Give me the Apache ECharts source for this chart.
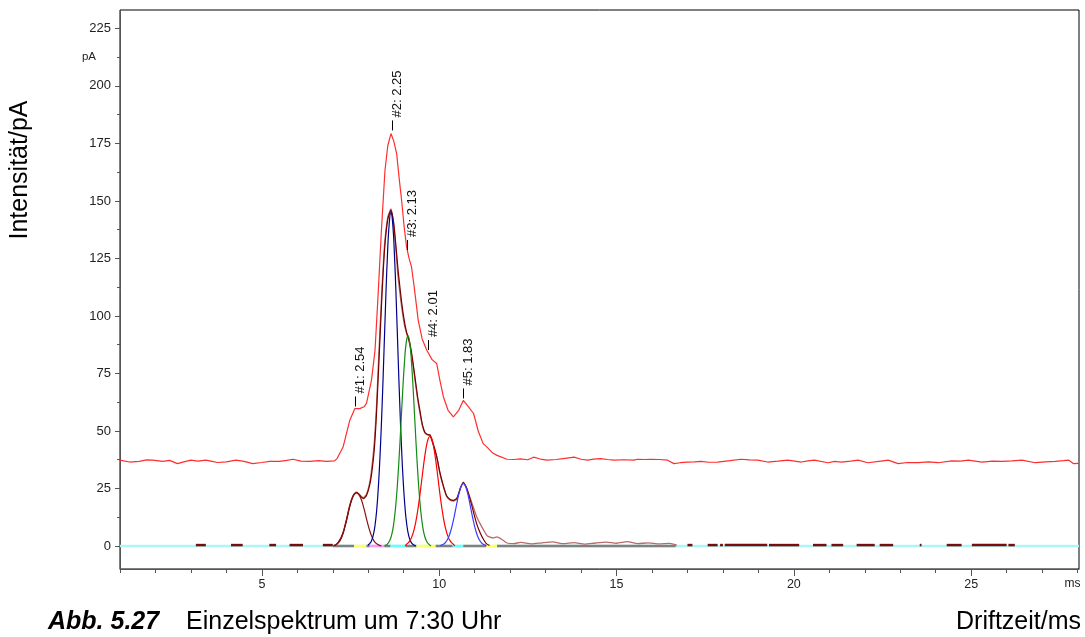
<!DOCTYPE html>
<html>
<head>
<meta charset="utf-8">
<script src="https://cdn.jsdelivr.net/npm/echarts@6/dist/echarts.min.js"></script>
<style>
  html, body { margin: 0; padding: 0; background: #fff; }
  #chart { width: 1085px; height: 637px; }
</style>
</head>
<body>
<div id="chart"></div>
<script>
// ---- Data: ion mobility single spectrum, drift time (ms) vs. intensity (pA) ----

// Measured spectrum (raw signal incl. offset)
const spectrum = [
  [1.0,37.3],[1.27,36.5],[1.54,36.8],[1.75,37.4],[1.92,37.3],[2.2,36.8],[2.4,37.2],[2.62,35.8],[2.8,36.6],[3.0,37.3],
  [3.2,36.9],[3.42,37.3],[3.6,36.8],[3.75,36.3],[4.0,36.6],[4.27,37.3],[4.5,36.8],[4.74,35.8],[5.0,36.3],[5.22,36.8],
  [5.5,36.8],[5.7,37.2],[5.88,37.7],[6.1,36.9],[6.35,36.8],[6.6,37.1],[6.82,36.8],[7.05,37.0],[7.12,38],[7.29,43],
  [7.48,54.7],[7.62,59.7],[7.76,59.7],[7.88,60.5],[7.95,62],[8.09,72],[8.19,85],[8.27,107],[8.37,137],[8.47,163],
  [8.55,174],[8.64,179.3],[8.72,176],[8.80,170.6],[8.87,160],[8.94,150.3],[9.01,139],[9.08,130],[9.15,125],[9.22,121.3],
  [9.30,112],[9.41,98],[9.52,90],[9.65,85.1],[9.80,81],[9.93,79.3],[10.02,72],[10.12,64.8],[10.25,59],[10.40,56.1],
  [10.55,59],[10.68,63.3],[10.80,61],[10.97,57.6],[11.1,50],[11.24,44.5],[11.35,43],[11.5,40.5],[11.63,39.4],[11.91,37.7],
  [12.1,37.6],[12.29,37.9],[12.5,37.5],[12.66,38.6],[12.85,37.8],[13.04,37.3],[13.3,37.6],[13.5,38],[13.8,38.6],[14.0,37.7],
  [14.19,37.3],[14.35,37.8],[14.55,38],[14.75,37.6],[14.93,37.3],[15.2,37.5],[15.49,37.3],[15.59,37.7],[15.8,37.6],[15.96,37.7],
  [16.2,37.6],[16.44,37.3],[16.62,35.8],[16.8,36.2],[17.0,36.5],[17.2,36.6],[17.38,36.8],[17.6,36.4],[17.85,36.5],[18.2,37.1],
  [18.51,37.7],[18.75,37.4],[18.98,37.3],[19.26,36.5],[19.55,36.9],[19.83,37.3],[20.21,36.5],[20.4,37.0],[20.58,37.3],[20.96,36.2],
  [21.15,36.8],[21.34,36.5],[21.6,36.9],[21.81,37.3],[22.09,36.2],[22.4,36.8],[22.66,37.3],[22.94,35.8],[23.2,36.3],[23.51,36.2],
  [23.8,36.6],[24.07,36.2],[24.45,37.0],[24.7,36.9],[24.92,37.3],[25.3,36.5],[25.6,36.9],[25.87,36.8],[26.15,37.0],[26.43,37.3],
  [26.81,36.2],[27.1,36.6],[27.37,36.8],[27.6,37.1],[27.75,37.3],[27.89,35.8],[28.04,35.9]
];

// Spectrum after offset subtraction
const netSignal = [
  [7.0,0],[7.1,0.8],[7.2,2.5],[7.29,5.8],[7.38,11],[7.48,17.8],[7.58,22.2],[7.67,23.4],[7.76,22.3],[7.86,21.0],
  [7.95,22.5],[8.04,27.5],[8.10,34],[8.17,45],[8.23,60],[8.30,84],[8.38,110],[8.46,131],[8.55,143],[8.64,146.5],
  [8.72,139],[8.80,125],[8.84,117],[8.94,104],[9.02,96],[9.08,92.5],[9.13,90],[9.18,87],[9.25,80],[9.32,72],
  [9.39,64],[9.46,57.6],[9.53,52],[9.60,49],[9.67,48.3],[9.74,48.1],[9.82,44.5],[9.93,38.7],[10.02,31.5],[10.12,25.7],
  [10.21,21.5],[10.31,19.9],[10.40,19.5],[10.50,20.5],[10.60,25],[10.68,27.8],[10.76,25.5],[10.87,21.0],[10.97,16.5],[11.06,12.6],
  [11.16,9.5],[11.25,7.0],[11.35,4.5],[11.52,3.5],[11.63,4.0],[11.80,2.5],[11.91,1.3],[12.1,1.0],[12.3,1.6],[12.6,0.9],
  [12.9,1.4],[13.2,1.8],[13.5,1.0],[13.8,1.5],[14.1,0.8],[14.4,1.3],[14.7,1.7],[15.0,1.2],[15.3,1.9],[15.6,1.0],
  [15.9,1.4],[16.2,0.9],[16.5,1.1],[16.7,0.4]
];

// Sum of the fitted peaks
const fitSum = [
  [7.02,0],[7.1,0.6],[7.2,2.2],[7.29,5.4],[7.38,10.6],[7.48,17.2],[7.58,21.8],[7.67,23.2],[7.76,22.0],[7.86,20.6],
  [7.95,22.0],[8.04,26.5],[8.10,32],[8.17,42],[8.23,57],[8.30,80],[8.38,107],[8.46,129],[8.55,142],[8.64,146],
  [8.72,140],[8.80,127],[8.84,120],[8.94,106],[9.02,97.5],[9.08,93],[9.13,90.5],[9.18,87.5],[9.25,81],[9.32,73],
  [9.39,65],[9.46,58.5],[9.53,52.5],[9.60,49.3],[9.67,48.5],[9.74,48.3],[9.82,45],[9.93,39],[10.02,32],[10.12,26],
  [10.21,21.8],[10.31,20.2],[10.40,19.8],[10.50,20.8],[10.60,25.3],[10.68,27.6],[10.76,25.8],[10.87,20.5],[10.97,14.5],[11.06,9.5],
  [11.16,5.5],[11.25,2.8],[11.33,1.0],[11.42,0.2]
];

// Fitted single peaks
const peak1 = [
  [7.05,0.3],[7.15,1.5],[7.27,5.0],[7.37,10.5],[7.47,17.0],[7.57,21.6],[7.67,23.2],[7.77,21.4],[7.87,16.8],[7.97,10.6],
  [8.07,5.3],[8.17,2.0],[8.27,0.6],[8.37,0]
];
const peak2 = [
  [7.99,0.3],[8.04,1.0],[8.09,2.2],[8.14,4.6],[8.19,8.9],[8.24,16],[8.29,27],[8.34,42],[8.39,61],[8.44,83],
  [8.49,106],[8.54,126],[8.59,140],[8.64,145],[8.69,140],[8.74,126],[8.79,106],[8.84,83],[8.89,61],[8.94,42],
  [8.99,27],[9.04,16],[9.09,8.8],[9.14,4.5],[9.19,2.2],[9.24,1.0],[9.29,0.4],[9.34,0]
];
const peak3 = [
  [8.47,0.2],[8.52,0.6],[8.57,1.4],[8.62,2.9],[8.67,5.5],[8.72,10],[8.77,16.8],[8.82,26.3],[8.87,38.5],[8.92,52.6],
  [8.97,67],[9.02,79.7],[9.07,88.4],[9.12,91.5],[9.17,88.4],[9.22,79.7],[9.27,67],[9.32,52.6],[9.37,38.5],[9.42,26.3],
  [9.47,16.8],[9.52,10],[9.57,5.5],[9.62,2.9],[9.67,1.4],[9.72,0.6],[9.77,0]
];
const peak4 = [
  [9.04,0],[9.09,0.9],[9.14,1.6],[9.19,2.7],[9.24,4.5],[9.29,7],[9.34,10.5],[9.39,15],[9.44,20.4],[9.49,26.4],
  [9.54,32.7],[9.59,38.6],[9.64,43.4],[9.69,46.6],[9.74,47.7],[9.79,46.6],[9.84,43.4],[9.89,38.6],[9.94,32.7],[9.99,26.4],
  [10.04,20.4],[10.09,15],[10.14,10.5],[10.19,7],[10.24,4.5],[10.29,2.7],[10.34,1.6],[10.39,0.9],[10.44,0]
];
const peak5 = [
  [10.03,0],[10.08,0.5],[10.13,0.9],[10.18,1.6],[10.23,2.7],[10.28,4.4],[10.33,6.8],[10.38,9.8],[10.43,13.3],[10.48,17.2],
  [10.53,21],[10.58,24.2],[10.63,26.3],[10.68,27.1],[10.73,26.3],[10.78,24.2],[10.83,21],[10.88,17.2],[10.93,13.3],[10.98,9.8],
  [11.03,6.8],[11.08,4.4],[11.13,2.7],[11.18,1.6],[11.23,0.9],[11.28,0.5],[11.33,0]
];

// Peak annotations: position on the spectrum and label text
const peakX = [7.62, 8.66, 9.10, 9.68, 10.68];
const peakY = [60, 180, 128, 84.5, 63.5];
const peakLabels = ['#1: 2.54', '#2: 2.25', '#3: 2.13', '#4: 2.01', '#5: 1.83'];

// Integration baseline pieces [from, to, kind]
const baselinePieces = [
  [7.0,7.6,'gray'],[7.6,7.95,'yellow'],[7.95,8.04,'gray'],[8.04,8.45,'pink'],[8.45,8.63,'gray'],
  [8.63,9.05,'cyan'],[9.05,9.36,'gray'],[9.36,9.9,'yellow'],[9.9,10.38,'gray'],[10.38,10.68,'cyan'],
  [10.68,11.32,'gray'],[11.32,11.63,'yellow'],[11.63,16.67,'gray']
];
// Short residual pieces lying on the zero line [from, to]
const residualPieces = [
  [3.14,3.42],[4.13,4.46],[5.21,5.40],[5.78,6.16],[6.72,7.0],
  [17.0,17.14],[17.57,17.85],[17.92,18.0],[18.05,19.25],[19.3,20.15],[20.54,20.92],[21.06,21.39],
  [21.77,22.28],[22.42,22.8],[23.55,23.6],[24.31,24.73],[25.02,26.0],[26.05,26.23]
];
const residualLevel = 0.4;

// Axis ticks and labels
const xRange = [1, 28.04];
const yRange = [-10, 233];
const xTicks = [1,2,3,4,5,6,7,8,9,10,11,12,13,14,15,16,17,18,19,20,21,22,23,24,25,26,27,28];
const xMajorTicks = [5,10,15,20,25];
const xLabelValues = [5,10,15,20,25,28];
const yTicks = [0,25,50,75,100,125,150,175,200,225];
const yMinorTicks = [12.5,37.5,62.5,87.5,112.5,137.5,162.5,187.5,212.5];
const yLabelValues = [0,25,50,75,100,125,150,175,200,212.5,225];
const yUnitAt = 212.5;

// ---- Styling ----
const FONT = '"Liberation Sans", Arial, Helvetica, sans-serif';
const pieceColors = { gray: '#808080', yellow: '#ffff66', pink: '#ff99ff', cyan: '#66ffff' };
const axisGray = '#555555';

function lineSeries(name, data, color, width, z, smooth) {
  return {
    name: name, type: 'line', data: data, showSymbol: false, symbol: 'none',
    smooth: smooth || false, z: z, silent: true,
    lineStyle: { color: color, width: width }
  };
}

const chart = echarts.init(document.getElementById('chart'), null, { renderer: 'canvas' });

const option = {
  animation: false,
  backgroundColor: '#ffffff',
  grid: { left: 120, right: 6, top: 10, bottom: 68, show: true, borderColor: '#000', borderWidth: 1, backgroundColor: 'transparent' },
  xAxis: [{
    type: 'value', min: xRange[0], max: xRange[1],
    axisLine: { show: true, onZero: false, lineStyle: { color: axisGray, width: 1 } },
    axisTick: { show: true, customValues: xTicks, length: 4, lineStyle: { color: axisGray } },
    axisLabel: {
      customValues: xLabelValues, margin: 9, color: '#222', fontFamily: FONT, fontSize: 12.5,
      formatter: function (v) { return v === 28 ? '{u|ms}' : String(v); },
      rich: { u: { padding: [0, 10, 0, 0], fontFamily: FONT, fontSize: 12, color: '#222' } }
    },
    splitLine: { show: false }
  }, {
    type: 'value', min: xRange[0], max: xRange[1], position: 'bottom',
    axisLine: { show: false, onZero: false },
    axisTick: { show: true, customValues: xMajorTicks, length: 7, lineStyle: { color: axisGray } },
    axisLabel: { show: false },
    splitLine: { show: false }
  }],
  yAxis: [{
    type: 'value', min: yRange[0], max: yRange[1],
    axisLine: { show: true, onZero: false, lineStyle: { color: axisGray, width: 1 } },
    axisTick: { show: true, customValues: yTicks, length: 5, lineStyle: { color: axisGray } },
    axisLabel: {
      customValues: yLabelValues, margin: 9, color: '#222', fontFamily: FONT, fontSize: 13,
      formatter: function (v) { return v === yUnitAt ? '{u|pA}' : String(v); },
      rich: { u: { padding: [0, 15, 0, 0], fontFamily: FONT, fontSize: 11.5, color: '#222' } }
    },
    splitLine: { show: false }
  }, {
    type: 'value', min: yRange[0], max: yRange[1], position: 'left', offset: 0,
    axisLine: { show: false, onZero: false },
    axisTick: { show: true, customValues: yMinorTicks, length: 3, lineStyle: { color: axisGray } },
    axisLabel: { show: false },
    splitLine: { show: false }
  }],
  series: [
    // zero line
    lineSeries('zero', [[xRange[0], 0], [xRange[1], 0]], '#aef6f6', 2.5, 1),
    // integration baseline pieces
    {
      type: 'custom', name: 'baseline', z: 2, silent: true,
      data: baselinePieces.map(function (p) { return [p[0], p[1], 0]; }),
      encode: { x: [0, 1], y: 2 },
      renderItem: function (params, api) {
        const a = api.coord([api.value(0), api.value(2)]);
        const b = api.coord([api.value(1), api.value(2)]);
        return {
          type: 'line',
          shape: { x1: a[0], y1: a[1], x2: b[0], y2: b[1] },
          style: { stroke: pieceColors[baselinePieces[params.dataIndex][2]], lineWidth: 2.5 }
        };
      }
    },
    // residual pieces on the zero line
    {
      type: 'custom', name: 'residual', z: 3, silent: true,
      data: residualPieces.map(function (p) { return [p[0], p[1], residualLevel]; }),
      encode: { x: [0, 1], y: 2 },
      renderItem: function (params, api) {
        const a = api.coord([api.value(0), api.value(2)]);
        const b = api.coord([api.value(1), api.value(2)]);
        return {
          type: 'line',
          shape: { x1: a[0], y1: a[1], x2: b[0], y2: b[1] },
          style: { stroke: '#7a0c0c', lineWidth: 2.5 }
        };
      }
    },
    lineSeries('net', netSignal, '#b86a6a', 1.3, 4, 0.2),
    lineSeries('fit', fitSum, '#7a0000', 1.2, 5, 0.2),
    lineSeries('#1', peak1, '#8b1010', 1.2, 6, true),
    lineSeries('#2', peak2, '#00008b', 1.2, 6, true),
    lineSeries('#3', peak3, '#138a13', 1.2, 6, true),
    lineSeries('#4', peak4, '#ff0000', 1.2, 6, true),
    lineSeries('#5', peak5, '#3c3cff', 1.2, 6, true),
    lineSeries('spectrum', spectrum, '#ff2e2e', 1.2, 7),
    // peak annotations
    {
      type: 'custom', name: 'peaks', z: 8, silent: true,
      data: peakX.map(function (x, i) { return [x, peakY[i]]; }),
      encode: { x: 0, y: 1 },
      renderItem: function (params, api) {
        const p = api.coord([api.value(0), api.value(1)]);
        const x = Math.round(p[0]) + 0.5;
        return {
          type: 'group',
          children: [{
            type: 'line',
            shape: { x1: x, y1: p[1] - 1.5, x2: x, y2: p[1] - 11.5 },
            style: { stroke: '#000', lineWidth: 1 }
          }, {
            type: 'text',
            x: p[0] - 1, y: p[1] - 14.5,
            rotation: Math.PI / 2,
            style: {
              text: peakLabels[params.dataIndex], fill: '#111',
              font: '13px ' + FONT, align: 'left', verticalAlign: 'top'
            }
          }]
        };
      }
    }
  ],
  graphic: [
    { type: 'text', x: 20, y: 170, rotation: Math.PI / 2,
      style: { text: 'Intensität/pA', font: '25px ' + FONT, fill: '#000', align: 'center', verticalAlign: 'middle' } },
    { type: 'text', x: 48, y: 622,
      style: { text: 'Abb. 5.27', font: 'italic bold 25px ' + FONT, fill: '#000', align: 'left', verticalAlign: 'middle' } },
    { type: 'text', x: 186, y: 622,
      style: { text: 'Einzelspektrum um 7:30 Uhr', font: '25px ' + FONT, fill: '#000', align: 'left', verticalAlign: 'middle' } },
    { type: 'text', x: 1081, y: 622,
      style: { text: 'Driftzeit/ms', font: '25px ' + FONT, fill: '#000', align: 'right', verticalAlign: 'middle' } }
  ]
};

chart.setOption(option);
</script>
</body>
</html>
